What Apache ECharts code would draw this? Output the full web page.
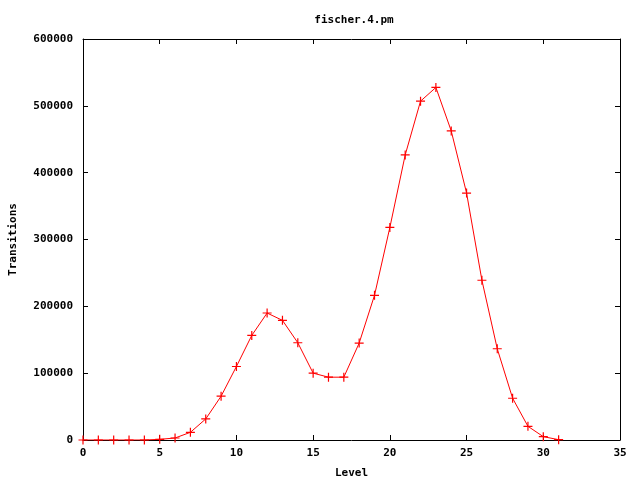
<!DOCTYPE html>
<html><head><meta charset="utf-8">
<script src="https://cdn.jsdelivr.net/npm/echarts@6/dist/echarts.min.js"></script>
<style>html,body{margin:0;padding:0;background:#fff}#c{width:640px;height:480px}</style>
</head><body><div id="c"></div>
<script>
const titleText = 'fischer.4.pm';
const xName = 'Level';
const yName = 'Transitions';
const levels = [0,1,2,3,4,5,6,7,8,9,10,11,12,13,14,15,16,17,18,19,20,21,22,23,24,25,26,27,28,29,30,31];
const transitions = [0,0,0,0,0,1000,3000,11500,31500,65500,110000,156500,190000,179000,145500,100000,94000,94000,145000,216500,318000,426500,507000,527500,462500,369500,239000,136500,62500,20500,5000,500];

const font = '"DejaVu Sans Mono", "Liberation Mono", monospace';
const data = levels.map((l,i)=>[l, transitions[i]]);
const chart = echarts.init(document.getElementById('c'), null, {renderer:'canvas'});
const lbl = {color:'#000', fontFamily:font, fontWeight:'bold', fontSize:11};
const tick = {show:true, inside:true, length:5, lineStyle:{color:'#000', width:1}};
const line = {show:true, onZero:false, lineStyle:{color:'#000', width:1}};
chart.setOption({
  animation:false,
  backgroundColor:'#fff',
  title:{text:titleText, left:349, top:10, textAlign:'center', textStyle:{fontFamily:font, fontWeight:'bold', fontSize:11, color:'#000'}},
  grid:{left:83, right:20, top:39, bottom:40, containLabel:false, outerBoundsMode:'none'},
  xAxis:[{
    type:'value', min:0, max:35, interval:5,
    name:xName, nameLocation:'middle', nameGap:28, nameTextStyle:lbl,
    axisLine:line, axisTick:tick,
    axisLabel:Object.assign({margin:8}, lbl),
    splitLine:{show:false}
  },{
    type:'value', min:0, max:35, interval:5, position:'top',
    axisLine:line, axisTick:tick,
    axisLabel:{show:false}, splitLine:{show:false}
  }],
  yAxis:[{
    type:'value', min:0, max:600000, interval:100000,
    name:yName, nameLocation:'middle', nameGap:64, nameRotate:90, nameTextStyle:lbl,
    axisLine:line, axisTick:tick,
    axisLabel:Object.assign({margin:10, formatter:v=>String(v)}, lbl),
    splitLine:{show:false}
  },{
    type:'value', min:0, max:600000, interval:100000, position:'right',
    axisLine:line, axisTick:tick,
    axisLabel:{show:false}, splitLine:{show:false}
  }],
  series:[{
    type:'line', data:data, xAxisIndex:0, yAxisIndex:0,
    lineStyle:{color:'#ff0000', width:1},
    symbol:'path://M0,5L10,5M5,0L5,10', symbolSize:9,
    itemStyle:{color:'none', borderColor:'#ff0000', borderWidth:1.2},
    showSymbol:true
  }]
});
</script></body></html>
